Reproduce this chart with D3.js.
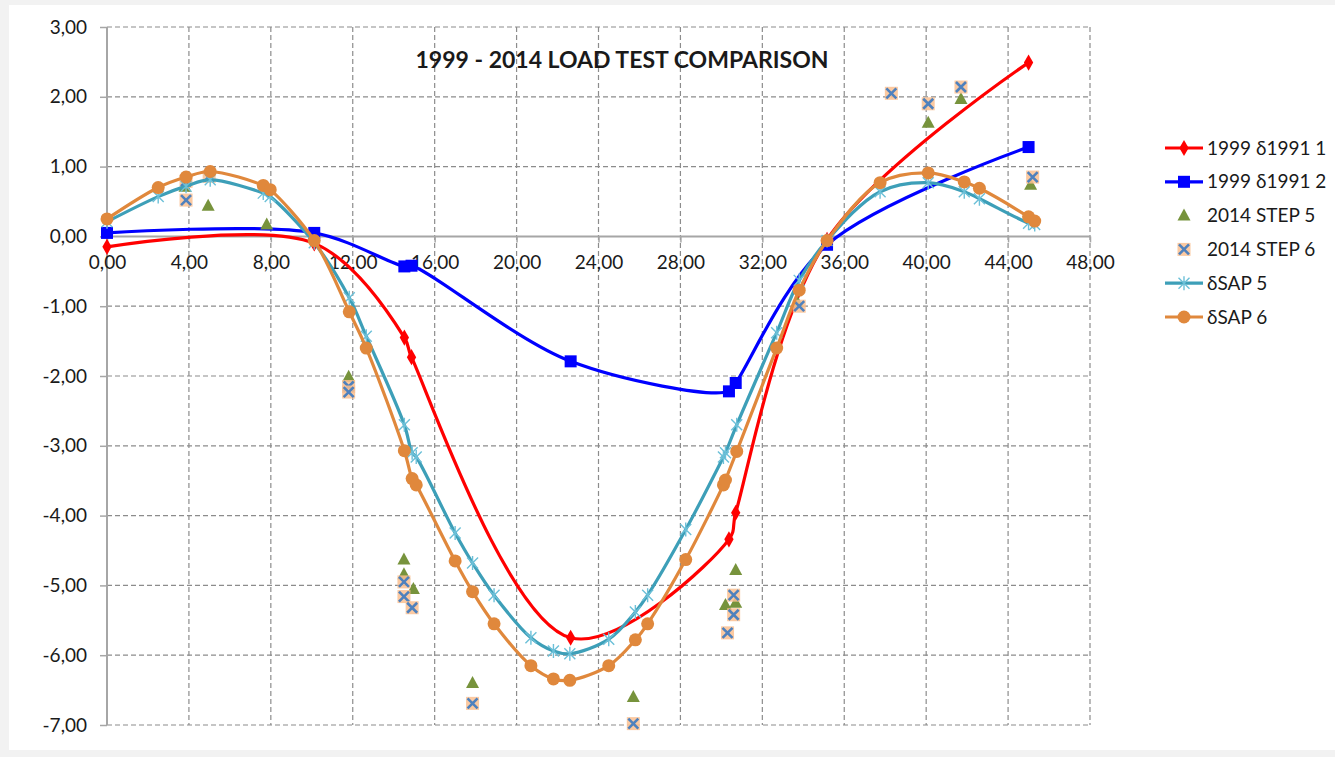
<!DOCTYPE html>
<html>
<head>
<meta charset="utf-8">
<script src="https://cdn.jsdelivr.net/npm/d3@7"></script>
<style>
  body { margin: 0; background: #f2f2f2; }
  text { font-family: Lato, "Open Sans", sans-serif; fill: #1a1a1a; }
</style>
</head>
<body>
<svg id="chart" width="1335" height="757"></svg>
<script>
// x positions of the SAP model nodes
var sapX = [0, 2.5, 3.86, 5.04, 7.63, 7.97, 10.12, 11.83, 12.66, 14.52, 14.9, 15.1, 17.0, 17.85, 18.9,
            20.7, 21.8, 22.6, 24.5, 25.8, 26.4, 28.26, 30.1, 30.2, 30.75, 32.7, 33.8, 35.16,
            37.75, 40.1, 41.86, 42.6, 45.0, 45.3];
var sap5 = [0.21, 0.57, 0.72, 0.81, 0.62, 0.57, -0.09, -0.88, -1.43, -2.70, -3.10, -3.16, -4.25, -4.68, -5.14,
            -5.75, -5.94, -5.98, -5.77, -5.38, -5.14, -4.20, -3.16, -3.10, -2.70, -1.38, -0.63, -0.06,
            0.64, 0.77, 0.64, 0.54, 0.19, 0.17];
var sap6 = [0.25, 0.70, 0.85, 0.93, 0.73, 0.67, -0.06, -1.08, -1.60, -3.07, -3.47, -3.56, -4.65, -5.09, -5.55,
            -6.15, -6.34, -6.36, -6.15, -5.78, -5.55, -4.63, -3.56, -3.49, -3.08, -1.60, -0.77, -0.06,
            0.77, 0.91, 0.78, 0.69, 0.28, 0.22];

// 1999 measurements
var x1999 = [0, 10.12, 14.52, 14.87, 22.64, 30.37, 30.7, 35.16, 45.0];
var d1999_1 = [-0.15, -0.10, -1.45, -1.73, -5.75, -4.34, -3.96, -0.05, 2.49];
var d1999_2 = [0.05, 0.05, -0.43, -0.42, -1.79, -2.22, -2.10, -0.12, 1.28];

// 2014 load test
var step5X = [3.81, 4.94, 7.8, 11.8, 14.5, 14.5, 14.96, 17.85, 25.7, 30.2, 30.7, 30.7, 33.7, 40.1, 41.7, 45.1];
var step5Y = [0.71, 0.44, 0.17, -2.01, -4.63, -4.84, -5.05, -6.40, -6.60, -5.28, -5.25, -4.78, -0.94, 1.63, 1.97, 0.74];
var step6X = [3.86, 3.86, 4.99, 11.8, 11.8, 14.5, 14.5, 14.9, 17.85, 25.7, 30.3, 30.6, 30.6, 33.8, 38.3, 40.1, 41.7, 45.2];
var step6Y = [0.79, 0.52, 0.86, -2.15, -2.23, -4.95, -5.16, -5.32, -6.69, -6.98, -5.68, -5.42, -5.14, -1.00, 2.05, 1.90, 2.14, 0.85];

var xTicks = d3.range(0, 49, 4);
var yTicks = d3.range(-7, 4, 1);

var legendNames = ["1999 \u03b41991 1", "1999 \u03b41991 2", "2014 STEP 5", "2014 STEP 6", "\u03b4SAP 5", "\u03b4SAP 6"];

var svg = d3.select("#chart");

svg.append("rect").attr("x", 9).attr("y", 5).attr("width", 1326).attr("height", 745).attr("fill", "#fff");

var x = d3.scaleLinear().domain([0, 48]).range([107, 1090]);
var y = d3.scaleLinear().domain([-7, 3]).range([725, 27]);

var loc = d3.formatLocale({decimal: ",", thousands: ".", grouping: [3], currency: ["", ""], minus: "-"});
var fmt = loc.format(".2f");

// grid
var grid = svg.append("g").attr("stroke", "#8c8c8c").attr("stroke-width", 1.2).attr("stroke-dasharray", "5,3");
grid.selectAll("line.h").data(yTicks.filter(function(d) { return d != 0; }))
  .enter().append("line")
    .attr("x1", x(0)).attr("x2", x(48))
    .attr("y1", function(d) { return y(d); }).attr("y2", function(d) { return y(d); });
grid.selectAll("line.v").data(xTicks.filter(function(d) { return d != 0; }))
  .enter().append("line")
    .attr("x1", function(d) { return x(d); }).attr("x2", function(d) { return x(d); })
    .attr("y1", y(3)).attr("y2", y(-7));

// axes
var yAxis = svg.append("g").attr("transform", "translate(" + x(0) + ",0)")
  .call(d3.axisLeft(y).tickValues(yTicks).tickSize(7).tickPadding(13).tickFormat(fmt));
var xAxis = svg.append("g").attr("transform", "translate(0," + y(0) + ")")
  .call(d3.axisBottom(x).tickValues(xTicks).tickSize(6).tickPadding(13).tickFormat(fmt));

[xAxis, yAxis].forEach(function(a) {
  a.select(".domain").attr("stroke", "#a6a6a6").attr("stroke-width", 2);
  a.selectAll(".tick line").attr("stroke", "#a6a6a6").attr("stroke-width", 1.5);
  a.selectAll(".tick text").attr("font-family", "Lato, sans-serif").attr("font-size", 19).attr("fill", "#1a1a1a");
});
xAxis.select(".domain").attr("d", "M" + x(0) + ",0H" + x(48));
yAxis.select(".domain").attr("d", "M0," + y(3) + "V" + y(-7));

// title
svg.append("text").attr("x", 622).attr("y", 68).attr("text-anchor", "middle")
  .attr("font-size", 23).attr("font-weight", "bold").attr("fill", "#000")
  .text("1999 - 2014 LOAD TEST COMPARISON");

// marker helpers
function drawMarker(g, type) {
  if (type == "diamond") {
    g.append("path").attr("d", d3.symbol(d3.symbolDiamond, 75)()).attr("fill", "#ff0000");
  } else if (type == "square") {
    g.append("rect").attr("x", -6).attr("y", -6).attr("width", 12).attr("height", 12).attr("fill", "#0000ff");
  } else if (type == "triangle") {
    g.append("path").attr("d", "M0,-7L6.5,5L-6.5,5Z").attr("fill", "#77933c");
  } else if (type == "cross") {
    g.append("rect").attr("x", -6.5).attr("y", -6.5).attr("width", 13).attr("height", 13)
      .attr("fill", "#fac090").attr("opacity", 0.85);
    g.append("path").attr("d", "M-5,-5L5,5M5,-5L-5,5").attr("stroke", "#4f81bd").attr("stroke-width", 2.6);
  } else if (type == "star") {
    g.append("path").attr("d", "M0,-7V7M-5.5,-5.5L5.5,5.5M5.5,-5.5L-5.5,5.5")
      .attr("stroke", "#6cc0d8").attr("stroke-width", 1.4).attr("fill", "none");
  } else if (type == "circle") {
    g.append("circle").attr("r", 6.5).attr("fill", "#e0883c");
  }
}

function plotSeries(xs, ys, opts) {
  var pts = xs.map(function(d, i) { return [d, ys[i]]; });
  var g = svg.append("g");
  if (opts.line) {
    var line = d3.line()
      .x(function(d) { return x(d[0]); })
      .y(function(d) { return y(d[1]); })
      .curve(d3.curveCatmullRom.alpha(0.5));
    g.append("path").datum(pts).attr("d", line)
      .attr("fill", "none").attr("stroke", opts.line).attr("stroke-width", 3.2);
  }
  g.selectAll("g.m").data(pts).enter().append("g")
    .attr("transform", function(d) { return "translate(" + x(d[0]) + "," + y(d[1]) + ")"; })
    .each(function() { drawMarker(d3.select(this), opts.marker); });
}

plotSeries(x1999, d1999_1, {line: "#ff0000", marker: "diamond"});
plotSeries(x1999, d1999_2, {line: "#0000ff", marker: "square"});
plotSeries(step5X, step5Y, {marker: "triangle"});
plotSeries(step6X, step6Y, {marker: "cross"});
plotSeries(sapX, sap5, {line: "#3d9fb8", marker: "star"});
plotSeries(sapX, sap6, {line: "#e0883c", marker: "circle"});

// legend
var legendStyle = [
  {line: "#ff0000", marker: "diamond"},
  {line: "#0000ff", marker: "square"},
  {marker: "triangle"},
  {marker: "cross"},
  {line: "#3d9fb8", marker: "star"},
  {line: "#e0883c", marker: "circle"}
];
var legend = svg.append("g").attr("transform", "translate(1165,148)");
legendNames.forEach(function(name, i) {
  var row = legend.append("g").attr("transform", "translate(0," + (i * 33.8) + ")");
  var s = legendStyle[i];
  if (s.line) {
    row.append("line").attr("x1", 0).attr("x2", 38).attr("stroke", s.line).attr("stroke-width", 3.2);
  }
  var m = row.append("g").attr("transform", "translate(19,0)");
  drawMarker(m, s.marker);
  row.append("text").attr("x", 42).attr("y", 0).attr("dy", "0.35em").attr("font-size", 19).text(name);
});
</script>
</body>
</html>
